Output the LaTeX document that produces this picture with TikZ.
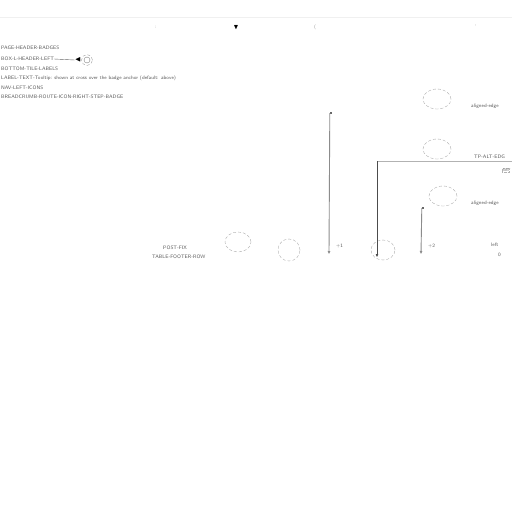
\documentclass[tikz,border=0pt]{standalone}
\usepackage{amssymb}
\usetikzlibrary{arrows.meta,shapes.geometric}
\begin{document}
\begin{tikzpicture}[x=1pt,y=-1pt,
  txt/.style={font=\fontsize{5}{6}\selectfont\sffamily, text=black!65, inner sep=0pt, anchor=west},
  cloud/.style={draw=black!35, densely dashed, line width=0.35pt, ellipse, minimum width=#1, minimum height=20pt, inner sep=0pt},
  cloud/.default=28pt,
  vline/.style={draw=black!45, line width=0.9pt, -{Triangle[length=3pt,width=2.5pt]}},
  tline/.style={draw=black!70, line width=0.4pt, -{Triangle[length=3pt,width=2.5pt]}},
  sqmark/.style={fill=black!60, minimum size=2pt, inner sep=0pt}]
\useasboundingbox (0,0) rectangle (512,512);
\fill[white] (0,0) rectangle (512,512);
% faint top rule
\coordinate (r0) at (0,17); \coordinate (r1) at (512,17);
\draw[black!6, line width=0.4pt] (r0) -- (r1);
% top marks
\node[txt, text=black!40] (m1) at (155,27) {:};
\node[font=\fontsize{7}{7}\selectfont, inner sep=0pt] (m2) at (236,28) {$\blacktriangledown$};
\node[txt, text=black!40] (m3) at (314,27) {(};
\node[txt, text=black!40] (m4) at (475,27) {'};
% legend
\node[txt] (l1) at (1,48) {PAGE-HEADER-BADGES};
\node[txt] (l2) at (1,59) {BOX-L-HEADER-LEFT};
\node[cloud=11pt, minimum height=11pt, draw=black!40] (lc) at (87,60) {};
\node[circle, draw=black!50, line width=0.4pt, minimum size=6pt, inner sep=0pt] (lci) at (87,60) {};
\node[font=\fontsize{7}{7}\selectfont, inner sep=0pt] (lt) at (78,60) {$\blacktriangleleft$};
\draw[black!60, line width=0.4pt] (l2.east) -- (lt.west);
\node[txt] (l3) at (1,69) {BOTTOM-TILE-LABELS};
\node[txt] (l4) at (1,78) {LABEL-TEXT-Tooltip: shown at cross over the badge anchor (default: above)};
\node[txt] (l5) at (1,88) {NAV-LEFT-ICONS};
\node[txt] (l6) at (1,97) {BREADCRUMB-ROUTE-ICON-RIGHT-STEP-BADGE};
% right column clouds
\node[cloud] (c1) at (437,99) {};
\node[txt] (t1) at (471,106) {aligned-edge};
\node[cloud] (c2) at (437,149) {};
\node[txt] (t2) at (474,157) {TP-ALT-EDG};
\node[draw=black!30, densely dotted, line width=0.3pt, font=\fontsize{3.5}{4}\selectfont\sffamily, text=black!60, inner sep=0.6pt] (bx) at (506,170) {NM};
\node[cloud] (c3) at (443,196) {};
\node[txt] (t3) at (471,203) {aligned-edge};
% horizontal line and down arrow to bottom cloud
\coordinate (h1) at (512,161);
\coordinate (h0) at (377,161);
\draw[black!30, line width=0.4pt] (h1) -- (h0);
% bottom row
\node[txt] (b1) at (163,248) {POST-FIX};
\node[txt] (b2) at (152,257) {TABLE-FOOTER-ROW};
\node[cloud=26pt] (c4) at (238,242) {};
\node[cloud=22pt, minimum height=22pt] (c5) at (289,250) {};
\node[cloud=24pt, minimum height=20pt] (c6) at (383,250) {};
\node[txt] (a1) at (336,246) {+1};
\node[txt] (a3) at (428,246) {+2};
\node[txt] (a4) at (491,245) {left};
\node[txt] (a5) at (498,255) {0};
% vertical arrows
\node[sqmark] (s1) at (331,113) {};
\coordinate (e1) at (329,254);
\draw[vline] (s1.west) -- (e1);
\draw[tline] (h0) -- (377,257);
\node[sqmark] (s3) at (423,208) {};
\coordinate (e3) at (421,254);
\draw[vline] (s3.west) -- (e3);
\end{tikzpicture}
\end{document}
